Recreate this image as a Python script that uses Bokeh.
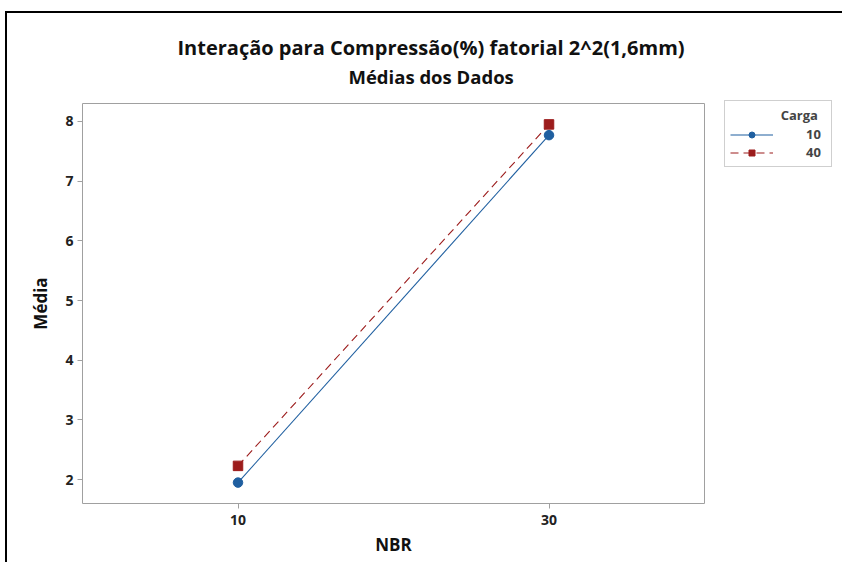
from bokeh.plotting import figure
from bokeh.models import Legend, LegendItem, Range1d, FixedTicker, Title, InlineStyleSheet
from bokeh.embed import file_html
from bokeh.resources import INLINE

nbr = [10, 30]
carga_labels = ["10", "40"]
media_carga10 = [1.95, 7.77]
media_carga40 = [2.23, 7.95]
x_ticks = [10, 30]
y_ticks = [2, 3, 4, 5, 6, 7, 8]

FONT = "Open Sans"
BLUE = "#1F5FA0"
RED = "#9C1C1C"
NB = "\u00a0"

p = figure(frame_width=622, frame_height=400, output_backend="svg", toolbar_location=None,
           x_range=Range1d(0, 40), y_range=Range1d(1.6, 8.3),
           min_border_left=82, min_border_right=130, min_border_top=103,
           min_border_bottom=59)

p.stylesheets = [InlineStyleSheet(css=""":host::after {content: ""; position: absolute;
  left: 5px; top: 11px; right: 0px; bottom: 0px; border-top: 2px solid #000;
  border-left: 2px solid #000; pointer-events: none;}""")]

p.title = Title(text="Interação para Compressão(%) fatorial 2^2(1,6mm)", align="left", offset=95,
                text_font=FONT, text_font_size="20px", text_font_style="bold",
                text_color="#111111", standoff=-28)
p.add_layout(Title(text="Médias dos Dados", align="left", offset=266, text_font=FONT,
                   text_font_size="18.5px", text_font_style="bold", text_color="#111111",
                   standoff=30), "above")

p.grid.visible = False
p.outline_line_color = "#A0A0A0"
p.outline_line_width = 1

for ax in (p.xaxis[0], p.yaxis[0]):
    ax.axis_line_color = None
    ax.major_tick_line_color = "#A0A0A0"
    ax.major_tick_in = 0
    ax.major_tick_out = 5
    ax.minor_tick_line_color = None
    ax.major_label_text_font = FONT
    ax.major_label_text_font_size = "14px"
    ax.major_label_text_font_style = "bold"
    ax.major_label_text_color = "#222222"
    ax.axis_label_text_font = FONT
    ax.axis_label_text_font_size = "17px"
    ax.axis_label_text_font_style = "bold"
    ax.axis_label_text_color = "#111111"

p.xaxis.ticker = FixedTicker(ticks=x_ticks)
p.yaxis.ticker = FixedTicker(ticks=y_ticks)
p.xaxis.axis_label = "NBR"
p.yaxis.axis_label = "Média"
p.xaxis.major_label_standoff = 6
p.xaxis.axis_label_standoff = 5
p.yaxis.major_label_standoff = 4
p.yaxis.axis_label_standoff = 10

l1 = p.line(nbr, media_carga10, line_color=BLUE, line_width=1.1)
m1 = p.scatter(nbr, media_carga10, marker="circle", size=9.5, fill_color=BLUE, line_color=BLUE)
l2 = p.line(nbr, media_carga40, line_color=RED, line_width=1.1, line_dash="8 5")
m2 = p.scatter(nbr, media_carga40, marker="square", size=9.5, fill_color=RED, line_color=RED)

legend = Legend(items=[LegendItem(label=carga_labels[0], renderers=[l1, m1]),
                       LegendItem(label=carga_labels[1], renderers=[l2, m2])],
                location=(20, 336), title=NB * 15 + "Carga",
                title_text_font=FONT, title_text_font_size="13px", title_text_font_style="bold",
                title_standoff=1,
                label_text_font=FONT, label_text_font_size="13px", label_text_font_style="bold",
                glyph_width=43, glyph_height=15, label_standoff=33, label_height=15,
                spacing=0, padding=5, margin=0,
                border_line_color="#A0A0A0", border_line_width=1, background_fill_alpha=1)
p.add_layout(legend, "right")

open("out.html", "w").write(file_html(p, INLINE))
